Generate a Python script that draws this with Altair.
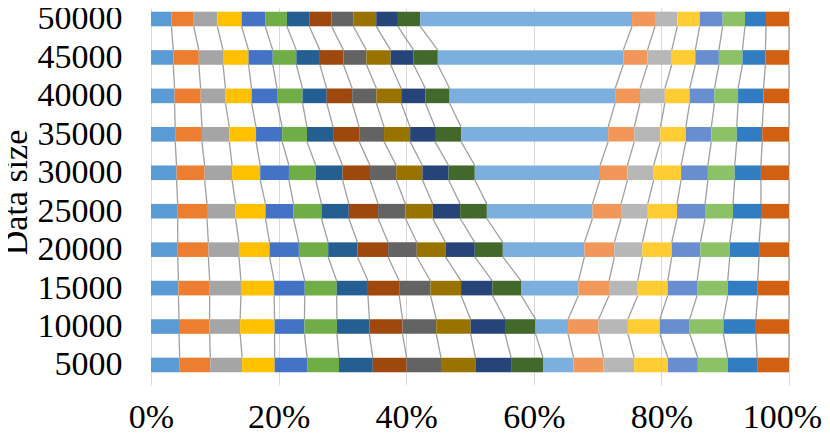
import altair as alt
import pandas as pd

# ---- data ----
data_sizes = [5000, 10000, 15000, 20000, 25000, 30000, 35000, 40000, 45000, 50000]

series_names = ["Series %d" % i for i in range(1, 21)]
series_colors = [
    "#5B9BD5", "#ED7D31", "#A5A5A5", "#FFC000", "#4472C4", "#70AD47",
    "#255E91", "#9E480E", "#636363", "#997300", "#264478", "#43682B",
    "#7CAFDD", "#F1975A", "#B7B7B7", "#FFCD33", "#698ED0", "#8CC168",
    "#327DC2", "#D26012",
]

# percentage share of each series for every data size
share_5000 = [4.5, 4.8, 5.0, 5.1, 5.1, 5.0, 5.3, 5.3, 5.4, 5.4, 5.6, 5.0, 4.8, 4.7, 4.8, 5.3, 4.7, 4.7, 4.6, 5.0]
share_10000 = [4.4, 4.8, 4.8, 5.4, 4.7, 5.1, 5.1, 5.2, 5.3, 5.4, 5.4, 4.8, 5.1, 4.8, 4.6, 5.0, 4.7, 5.3, 5.1, 5.2]
share_15000 = [4.3, 4.9, 4.9, 5.2, 4.8, 5.0, 4.9, 4.9, 4.9, 4.8, 4.9, 4.5, 9.0, 4.8, 4.5, 4.7, 4.6, 4.8, 4.7, 4.9]
share_20000 = [4.2, 4.8, 4.8, 4.8, 4.6, 4.6, 4.6, 4.8, 4.5, 4.5, 4.6, 4.4, 12.8, 4.7, 4.4, 4.6, 4.5, 4.6, 4.6, 4.7]
share_25000 = [4.2, 4.6, 4.5, 4.7, 4.4, 4.4, 4.3, 4.6, 4.3, 4.3, 4.3, 4.2, 16.6, 4.5, 4.2, 4.6, 4.4, 4.4, 4.4, 4.4]
share_30000 = [4.0, 4.4, 4.3, 4.4, 4.5, 4.2, 4.2, 4.3, 4.1, 4.1, 4.1, 4.1, 19.6, 4.3, 4.1, 4.3, 4.2, 4.2, 4.1, 4.4]
share_35000 = [3.8, 4.2, 4.3, 4.2, 4.1, 3.9, 4.1, 4.1, 3.9, 4.1, 3.9, 4.1, 23.1, 4.1, 4.1, 4.0, 4.0, 4.0, 4.0, 4.2]
share_40000 = [3.7, 4.1, 3.9, 4.1, 4.0, 4.0, 3.8, 4.0, 3.8, 3.9, 3.8, 3.8, 26.0, 3.9, 3.9, 3.9, 3.9, 3.7, 4.0, 4.0]
share_45000 = [3.5, 4.0, 3.8, 4.0, 3.8, 3.7, 3.7, 3.7, 3.6, 3.8, 3.6, 3.8, 29.1, 3.8, 3.8, 3.7, 3.7, 3.7, 3.6, 3.7]
share_50000 = [3.2, 3.5, 3.7, 3.8, 3.7, 3.4, 3.5, 3.5, 3.4, 3.6, 3.4, 3.5, 33.2, 3.6, 3.5, 3.5, 3.6, 3.5, 3.3, 3.6]

x_ticks = [0, 20, 40, 60, 80, 100]

shares = [share_5000, share_10000, share_15000, share_20000, share_25000,
          share_30000, share_35000, share_40000, share_45000, share_50000]

# ---- styling constants ----
HALF = 0.19          # half bar thickness in row units
FONT = "Liberation Serif"
FS = 34

# ---- build tables (100% stacking) ----
bar_rows = []
ends = []
for i, (size, vals) in enumerate(zip(data_sizes, shares)):
    total = float(sum(vals))
    c = 0.0
    row_ends = []
    for name, v in zip(series_names, vals):
        start = c
        c += v
        bar_rows.append(dict(size=size, idx=i, series=name,
                             x0=start / total * 100, x1=c / total * 100,
                             y0=i - HALF, y1=i + HALF))
        row_ends.append(c / total * 100)
    ends.append(row_ends)

link_rows = []
for i in range(1, len(data_sizes)):
    for s, name in enumerate(series_names):
        link_rows.append(dict(series=name,
                              xa=ends[i][s], xb=ends[i - 1][s],
                              ya=i - HALF, yb=(i - 1) + HALF))

bars_df = pd.DataFrame(bar_rows)
links_df = pd.DataFrame(link_rows)

x_scale = alt.Scale(domain=[0, 100], nice=False, zero=False)
y_scale = alt.Scale(domain=[-0.521, 9.286], nice=False, zero=False)

x_axis = alt.Axis(values=x_ticks, labelExpr="datum.value + '%'", grid=True,
                  gridColor="#D9D9D9", gridWidth=1, ticks=False, domain=False,
                  labelFont=FONT, labelFontSize=FS, labelColor="#000000",
                  labelPadding=42, labelBaseline="alphabetic", labelFlush=False,
                  labelOffset={"expr": "datum.value == 100 ? -7 : 0"})

label_list = "[" + ",".join("'%d'" % s for s in data_sizes) + "][datum.value]"
y_axis = alt.Axis(values=list(range(len(data_sizes))), labelExpr=label_list,
                  grid=False, ticks=False, domain=False,
                  labelFont=FONT, labelFontSize=FS, labelColor="#000000",
                  labelPadding=29, labelAlign="right", labelBaseline="middle",
                  titleFont=FONT, titleFontSize=FS, titleFontWeight="normal",
                  titleColor="#000000", titleAngle=270, titleX=-125, titleY=184,
                  titleAlign="center", titleBaseline="alphabetic")

links = alt.Chart(links_df).mark_rule(color="#A0A0A0", strokeWidth=1.3).encode(
    x=alt.X("xa:Q", scale=x_scale, axis=x_axis, title=None),
    x2="xb:Q",
    y=alt.Y("ya:Q", scale=y_scale, axis=y_axis, title="Data size"),
    y2="yb:Q",
)

bars = alt.Chart(bars_df).mark_bar().encode(
    x=alt.X("x0:Q", scale=x_scale, axis=x_axis, title=None),
    x2="x1:Q",
    y=alt.Y("y0:Q", scale=y_scale, axis=y_axis, title="Data size"),
    y2="y1:Q",
    color=alt.Color("series:N", scale=alt.Scale(domain=series_names, range=series_colors),
                    legend=None),
)

chart = alt.layer(links, bars).properties(
    width=638, height=377,
    autosize=alt.AutoSizeParams(type="none"),
    padding={"left": 143, "top": 0, "right": 33, "bottom": 46},
    background="white",
).configure_view(stroke=None)

chart.save("out.html", embed_options={"renderer": "svg", "actions": False})
